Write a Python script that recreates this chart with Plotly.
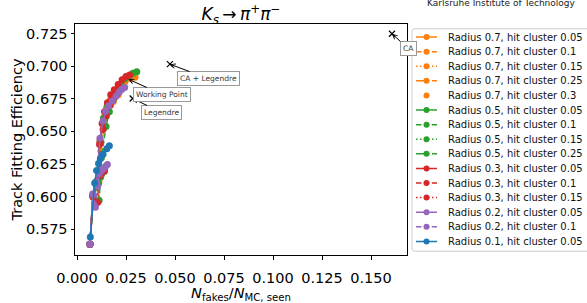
import plotly.graph_objects as go

# ---------------- data ----------------
radii = [0.7, 0.7, 0.7, 0.7, 0.7, 0.5, 0.5, 0.5, 0.5, 0.3, 0.3, 0.3, 0.2, 0.2, 0.1]
hit_clusters = [0.05, 0.1, 0.15, 0.25, 0.3, 0.05, 0.1, 0.15, 0.25, 0.05, 0.1, 0.15, 0.05, 0.1, 0.05]

x_r07_h005 = [0.0066, 0.0083, 0.0100, 0.0118, 0.0135, 0.0150, 0.0170, 0.0195, 0.0220, 0.0245, 0.0270, 0.0296]
y_r07_h005 = [0.5635, 0.6010, 0.6120, 0.6430, 0.6600, 0.6680, 0.6740, 0.6790, 0.6840, 0.6880, 0.6905, 0.6915]
x_r07_h010 = [0.0066, 0.0082, 0.0110, 0.0122, 0.0140, 0.0160, 0.0185, 0.0210]
y_r07_h010 = [0.5635, 0.6005, 0.5975, 0.6350, 0.6550, 0.6650, 0.6730, 0.6780]
x_r07_h015 = [0.0066, 0.0082, 0.0105, 0.0125]
y_r07_h015 = [0.5635, 0.6000, 0.6100, 0.6180]
x_r07_h025 = [0.0066, 0.0083, 0.0112, 0.0135]
y_r07_h025 = [0.5635, 0.6000, 0.6120, 0.6190]
x_r07_h030 = [0.0066, 0.0083, 0.0120]
y_r07_h030 = [0.5635, 0.6000, 0.6150]

x_r05_h005 = [0.0066, 0.0083, 0.0100, 0.0118, 0.0135, 0.0155, 0.0180, 0.0205, 0.0225, 0.0243, 0.0265, 0.0285, 0.0305]
y_r05_h005 = [0.5635, 0.6010, 0.6115, 0.6420, 0.6600, 0.6700, 0.6770, 0.6820, 0.6860, 0.6902, 0.6920, 0.6945, 0.6958]
x_r05_h010 = [0.0066, 0.0082, 0.0113, 0.0125, 0.0148, 0.0165, 0.0185, 0.0205]
y_r05_h010 = [0.5635, 0.6005, 0.5970, 0.6300, 0.6538, 0.6650, 0.6740, 0.6790]
x_r05_h015 = [0.0066, 0.0083, 0.0100, 0.0120, 0.0140]
y_r05_h015 = [0.5635, 0.6000, 0.6070, 0.6150, 0.6200]
x_r05_h025 = [0.0066, 0.0084, 0.0110, 0.0125, 0.0140]
y_r05_h025 = [0.5635, 0.6000, 0.6100, 0.6170, 0.6195]

x_r03_h005 = [0.0066, 0.0082, 0.0098, 0.0115, 0.0128, 0.0140, 0.0155, 0.0172, 0.0190, 0.0210, 0.0230, 0.0250, 0.0268]
y_r03_h005 = [0.5635, 0.6010, 0.6100, 0.6400, 0.6560, 0.6650, 0.6720, 0.6780, 0.6820, 0.6860, 0.6895, 0.6920, 0.6932]
x_r03_h010 = [0.0066, 0.0080, 0.0105, 0.0118, 0.0133, 0.0150, 0.0170, 0.0190, 0.0205]
y_r03_h010 = [0.5635, 0.6005, 0.5955, 0.6420, 0.6515, 0.6620, 0.6700, 0.6760, 0.6790]
x_r03_h015 = [0.0066, 0.0082, 0.0100, 0.0115, 0.0128, 0.0140]
y_r03_h015 = [0.5635, 0.6000, 0.6080, 0.6160, 0.6185, 0.6200]

x_r02_h005 = [0.0066, 0.0081, 0.0100, 0.0117, 0.0133, 0.0146, 0.0161, 0.0180, 0.0199, 0.0215, 0.0228, 0.0243]
y_r02_h005 = [0.5635, 0.6023, 0.6110, 0.6448, 0.6579, 0.6655, 0.6696, 0.6733, 0.6769, 0.6800, 0.6822, 0.6837]
x_r02_h010 = [0.0066, 0.0081, 0.0094, 0.0105, 0.0113, 0.0125, 0.0135, 0.0145, 0.0155]
y_r02_h010 = [0.5635, 0.6015, 0.5918, 0.6080, 0.6173, 0.6200, 0.6215, 0.6232, 0.6246]

x_r01_h005 = [0.0068, 0.0090, 0.0100, 0.0110, 0.0119, 0.0133, 0.0152, 0.0165]
y_r01_h005 = [0.5690, 0.6105, 0.6200, 0.6255, 0.6290, 0.6325, 0.6368, 0.6390]

series_x = [x_r07_h005, x_r07_h010, x_r07_h015, x_r07_h025, x_r07_h030,
            x_r05_h005, x_r05_h010, x_r05_h015, x_r05_h025,
            x_r03_h005, x_r03_h010, x_r03_h015,
            x_r02_h005, x_r02_h010, x_r01_h005]
series_y = [y_r07_h005, y_r07_h010, y_r07_h015, y_r07_h025, y_r07_h030,
            y_r05_h005, y_r05_h010, y_r05_h015, y_r05_h025,
            y_r03_h005, y_r03_h010, y_r03_h015,
            y_r02_h005, y_r02_h010, y_r01_h005]

ref_names = ["CA", "CA + Legendre", "Legendre"]
ref_x = [0.1607, 0.0474, 0.0284]
ref_y = [0.7248, 0.7015, 0.6752]
wp_name = "Working Point"
wp_x = 0.0262
wp_y = 0.6900

x_ticks = [0.0, 0.025, 0.05, 0.075, 0.1, 0.125, 0.15]
y_ticks = [0.575, 0.6, 0.625, 0.65, 0.675, 0.7, 0.725]

# ---------------- styles ----------------
colors = {0.7: "#ff7f0e", 0.5: "#2ca02c", 0.3: "#d62728", 0.2: "#9467bd", 0.1: "#1f77b4"}
dashes = {0.05: "solid", 0.1: "5.5px,2.4px", 0.15: "1.5px,2.5px", 0.25: "9.6px,2.4px,1.5px,2.4px", 0.3: None}

W, H = 587, 303
ML, MR, MT, MB = 75, 0, 24, 37
PW = W - ML - MR
PH = H - MT - MB
plot_right_px = 407
leg_left_px = 412


def px_x(p):
    return (p - ML) / PW


def px_y(p):
    return (H - MB - p) / PH


def rounded_box(x0p, x1p, y0p, y1p, rad):
    # rounded rectangle path in paper coordinates, from pixel corners
    x0, x1 = px_x(x0p), px_x(x1p)
    yt, yb = px_y(y0p), px_y(y1p)
    rx, ry = rad / PW, rad / PH
    return (f"M{x0 + rx},{yt} L{x1 - rx},{yt} Q{x1},{yt} {x1},{yt - ry} "
            f"L{x1},{yb + ry} Q{x1},{yb} {x1 - rx},{yb} L{x0 + rx},{yb} "
            f"Q{x0},{yb} {x0},{yb + ry} L{x0},{yt - ry} Q{x0},{yt} {x0 + rx},{yt} Z")


fig = go.Figure()

for r, h, xs, ys in zip(radii, hit_clusters, series_x, series_y):
    d = dashes[h]
    fig.add_trace(go.Scatter(
        x=xs, y=ys, mode="markers" if d is None else "lines+markers",
        line=dict(color=colors[r], width=1.5, dash=d or "solid"),
        marker=dict(color=colors[r], size=7),
        showlegend=False, xaxis="x", yaxis="y"))

fig.add_trace(go.Scatter(
    x=ref_x, y=ref_y, mode="markers",
    marker=dict(symbol="x-thin", size=6, color="black", line=dict(color="black", width=1.2)),
    showlegend=False, xaxis="x", yaxis="y"))

# ---------------- custom legend ----------------
legend_annotations = []
for i, (r, h) in enumerate(zip(radii, hit_clusters)):
    d = dashes[h]
    if d is not None:
        fig.add_trace(go.Scatter(x=[4, 25], y=[i, i], mode="lines",
                                 line=dict(color=colors[r], width=1.5, dash=d),
                                 showlegend=False, xaxis="x2", yaxis="y2", hoverinfo="skip"))
    fig.add_trace(go.Scatter(x=[14.5], y=[i], mode="markers",
                             marker=dict(color=colors[r], size=6),
                             showlegend=False, xaxis="x2", yaxis="y2", hoverinfo="skip"))
    legend_annotations.append(dict(
        x=33.5, y=i, xref="x2", yref="y2", xanchor="left", yanchor="middle",
        text=f"Radius {r}, hit cluster {h}", showarrow=False,
        font=dict(size=10, color="#111", family="DejaVu Sans")))

# ---------------- annotations ----------------
label_pos = {"CA": (0.1689, 0.7136), "CA + Legendre": (0.0670, 0.6905),
             "Legendre": (0.0431, 0.6645), "Working Point": (0.0436, 0.6783)}
box_style = dict(bgcolor="white", bordercolor="#999999", borderwidth=1, borderpad=2,
                 font=dict(size=7.5, color="#333", family="DejaVu Sans"),
                 showarrow=True, arrowhead=5, arrowsize=0.9, arrowwidth=1, arrowcolor="black",
                 xref="x", yref="y", axref="x", ayref="y")
point_annotations = []
for name, xv, yv in list(zip(ref_names, ref_x, ref_y)) + [(wp_name, wp_x, wp_y)]:
    ax, ay = label_pos[name]
    point_annotations.append(dict(x=xv, y=yv, ax=ax, ay=ay, text=name, **box_style))

kit = dict(text="Karlsruhe Institute of Technology", x=px_x(501), y=px_y(2.3),
           xref="paper", yref="paper", xanchor="center", yanchor="middle", showarrow=False,
           font=dict(size=9, color="#222", family="DejaVu Sans"))

axis_common = dict(showgrid=False, zeroline=False, showline=True, mirror=True,
                   linecolor="black", linewidth=1, ticks="outside", ticklen=3.5,
                   tickwidth=1, tickcolor="black",
                   tickfont=dict(size=14.5, color="black", family="DejaVu Sans"))

fig.update_layout(
    width=W, height=H, autosize=False,
    margin=dict(l=ML, r=MR, t=MT, b=MB, pad=0),
    paper_bgcolor="white", plot_bgcolor="white",
    font=dict(family="DejaVu Sans", color="black"),
    title=dict(text="<i>K</i><sub><i>s</i></sub>\u2009→\u2009<i>π</i><sup>+</sup><i>π</i><sup>−</sup>",
               x=241 / W, xref="container", xanchor="center",
               y=1 - 14.5 / H, yref="container", yanchor="middle",
               font=dict(size=17, family="DejaVu Sans", color="black")),
    xaxis=dict(domain=[0, px_x(plot_right_px)], range=[-0.00102, 0.16837],
               tickvals=x_ticks, tickformat=".3f", anchor="y", ticklabelstandoff=6,
               title=dict(text="<i>N</i><sub>fakes</sub>/<i>N</i><sub>MC, seen</sub>",
                          font=dict(size=14.5, family="DejaVu Sans"), standoff=7),
               **axis_common),
    yaxis=dict(domain=[0, 1], range=[0.5553, 0.7323], tickvals=y_ticks, tickformat=".3f",
               anchor="x",
               title=dict(text="Track Fitting Efficiency",
                          font=dict(size=14.5, family="DejaVu Sans"), standoff=0),
               **axis_common),
    xaxis2=dict(domain=[px_x(leg_left_px), 1], range=[0, W - leg_left_px], visible=False,
                anchor="y2", fixedrange=True),
    yaxis2=dict(domain=[px_y(262), px_y(29)], range=[14.67, -0.569], visible=False,
                anchor="x2", fixedrange=True),
    shapes=[dict(type="path", xref="paper", yref="paper",
                 path=rounded_box(leg_left_px, leg_left_px + 200, 29, 262, 3),
                 line=dict(color="#cccccc", width=1), fillcolor="rgba(255,255,255,0.8)",
                 layer="below")],
    annotations=legend_annotations + point_annotations + [kit],
)

fig.write_html("out.html", config={"displayModeBar": False},
               post_script="document.body.style.margin='0';document.body.style.overflow='hidden';")
